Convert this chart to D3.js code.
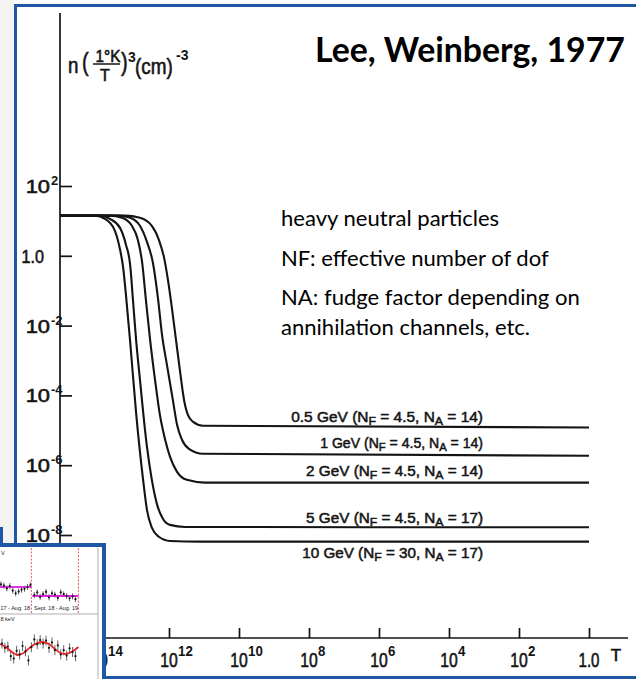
<!DOCTYPE html>
<html>
<head>
<meta charset="utf-8">
<script src="https://cdn.jsdelivr.net/npm/d3@7"></script>
<style>
  html, body { margin: 0; padding: 0; background: #fff; }
  svg { display: block; }
</style>
</head>
<body>
<svg id="chart" width="636" height="679"></svg>
<script>
// Heavy neutral lepton relic density n(1°K/T)^3 versus temperature T
// (after Lee & Weinberg, 1977). Values are stored as log10 exponents.

const massLabels = ["0.5 GeV", "1 GeV", "2 GeV", "5 GeV", "10 GeV"];
const nfValues   = ["4.5", "4.5", "4.5", "4.5", "30"];
const naValues   = ["14", "14", "14", "17", "17"];

const logT_05 = [15.11, 13.26, 12.83, 12.49, 12.29, 12.14, 12.03, 11.91, 11.80, 11.69, 11.57, 11.46, 11.31, 11.03, 0];
const logN_05 = [1.15, 1.15, 1.09, 0.86, 0.46, -0.06, -0.69, -1.55, -2.41, -3.27, -4.13, -4.56, -4.76, -4.87, -4.92];

const logT_1 = [15.11, 13.46, 13.11, 12.83, 12.63, 12.46, 12.31, 12.20, 12.06, 11.89, 11.77, 11.63, 11.43, 11.03, 0];
const logN_1 = [1.15, 1.15, 1.09, 0.86, 0.40, -0.20, -1.26, -2.26, -3.12, -4.13, -4.84, -5.27, -5.53, -5.67, -5.73];

const logT_2 = [15.11, 13.69, 13.34, 13.06, 12.89, 12.77, 12.66, 12.54, 12.40, 12.26, 12.11, 11.97, 11.77, 11.49, 10.97, 0];
const logN_2 = [1.15, 1.15, 1.09, 0.86, 0.46, -0.17, -1.26, -2.41, -3.55, -4.56, -5.27, -5.76, -6.19, -6.42, -6.50, -6.50];

const logT_5 = [15.11, 13.97, 13.69, 13.40, 13.23, 13.11, 13.03, 12.94, 12.83, 12.63, 12.49, 12.34, 12.17, 11.97, 11.54, 0];
const logN_5 = [1.15, 1.15, 1.06, 0.80, 0.32, -0.26, -1.26, -2.41, -3.55, -5.47, -6.42, -7.13, -7.54, -7.71, -7.77, -7.78];

const logT_10 = [15.11, 14.11, 13.83, 13.57, 13.43, 13.31, 13.23, 13.11, 12.94, 12.74, 12.63, 12.49, 12.29, 11.97, 11.11, 0];
const logN_10 = [1.15, 1.15, 1.06, 0.77, 0.32, -0.34, -1.12, -2.46, -4.50, -6.42, -7.28, -7.79, -8.05, -8.17, -8.19, -8.19];

const yTickExps = [2, 0, -2, -4, -6, -8];
const xTickExps = [14, 12, 10, 8, 6, 4, 2, 0];

const notes = [
  "heavy neutral particles",
  "NF: effective number of dof",
  "NA: fudge factor depending on",
  "annihilation channels, etc."
];
const titleText = "Lee, Weinberg, 1977";

// Small two-panel rate plot pasted in the lower-left corner
const insetDays1  = [1, 4, 7, 10, 13, 16, 19, 22, 25, 28, 31];
const insetRate1  = [1.006, 1.003, 0.997, 1.002, 0.992, 0.986, 0.990, 0.994, 0.996, 1.000, 1.004];
const insetDays2  = [35, 38, 41, 44, 47, 50, 53, 56, 59, 62, 65, 68, 71, 74, 77];
const insetRate2  = [0.982, 0.988, 0.978, 0.984, 0.989, 0.977, 0.986, 0.983, 0.976, 0.988, 0.984, 0.980, 0.975, 0.979, 0.973];
const insetLevels = [1.0, 0.98];
const insetFitDays = [0, 6, 12, 18, 24, 30, 36, 43, 50, 56, 62, 67, 73, 80];
const insetFitVals = [0.83, 0.33, -0.5, -1.0, -0.67, 0.17, 0.83, 1.17, 0.83, 0.0, -0.67, -0.83, -0.5, 0.33];
const insetResDays = [2, 5, 8, 11, 14, 17, 20, 23, 26, 29, 32, 35, 38, 41, 44, 47, 50, 53, 56, 59, 62, 65, 68, 71, 74, 77];
const insetResVals = [0.9, 0.2, 0.4, -1.2, -1.6, -0.3, -0.9, 0.5, -0.4, -1.9, 0.3, 1.6, 0.8, 1.5, 0.9, 1.4, 0.2, 1.1, -0.2, 0.6, -0.9, -0.2, -1.1, 0.1, -0.5, -1.2];

const svg = d3.select("#chart");
const W = 636, H = 679;
const frameBlue = "#1f57a5";
const ink = "#141414";
const scanFont = "'Liberation Sans', Arial, sans-serif";
const slideFont = "Lato, 'Open Sans', sans-serif";

svg.append("rect").attr("width", W).attr("height", H).attr("fill", "#fff");
// slide background strip on the left
svg.append("rect").attr("x", 0).attr("y", 0).attr("width", 14).attr("height", 545).attr("fill", "#f3f3f2");

// text in the typeset figure: horizontally scaled about its anchor point
function scanText(parent, px, py, str, size, opts = {}) {
  const g = parent.append("g").attr("transform", `translate(${px},${py}) scale(${opts.sx || 1},1)`);
  const t = g.append("text").attr("x", 0).attr("y", 0)
    .attr("font-family", scanFont).attr("font-size", size)
    .attr("font-weight", opts.bold ? "bold" : "normal")
    .attr("text-anchor", opts.anchor || "start")
    .attr("fill", ink).attr("stroke", ink).attr("stroke-width", opts.bold ? 0 : 0.6)
    .text(str);
  return t;
}

// ---------- scales ----------
const x = d3.scaleLog().domain([1e14, 1]).range([99, 589]);
const y = d3.scaleLog().domain([1e2, 1e-8]).range([186, 535]);

const axisX0 = 60, axisY0 = 638;

// ---------- axes ----------
svg.append("line").attr("x1", axisX0).attr("x2", axisX0).attr("y1", 13).attr("y2", axisY0)
  .attr("stroke", ink).attr("stroke-width", 1.7);
svg.append("line").attr("x1", axisX0).attr("x2", 628).attr("y1", axisY0).attr("y2", axisY0)
  .attr("stroke", ink).attr("stroke-width", 1.7);

const yAxis = svg.append("g").attr("transform", `translate(${axisX0},0)`)
  .call(d3.axisRight(y).tickValues(yTickExps.map(e => Math.pow(10, e))).tickSize(12).tickFormat(""));
yAxis.select(".domain").remove();
yAxis.selectAll(".tick line").attr("stroke", ink).attr("stroke-width", 1.7);

const xAxis = svg.append("g").attr("transform", `translate(0,${axisY0})`)
  .call(d3.axisTop(x).tickValues(xTickExps.map(e => Math.pow(10, e))).tickSize(10).tickFormat(""));
xAxis.select(".domain").remove();
xAxis.selectAll(".tick line").attr("stroke", ink).attr("stroke-width", 1.7);

// y tick labels
yTickExps.forEach(e => {
  const ty = y(Math.pow(10, e));
  if (e === 0) {
    scanText(svg, 44, ty + 7, "1.0", 19, { anchor: "end", sx: 0.85 });
  } else {
    scanText(svg, 50, ty + 7, "10", 19, { anchor: "end", sx: 1.15 });
    scanText(svg, 51, ty - 1, e < 0 ? "-" + (-e) : String(e), 13, { bold: true });
  }
});

// x tick labels
xTickExps.forEach(e => {
  const tx = x(Math.pow(10, e));
  if (e === 0) {
    scanText(svg, tx, 667, "1.0", 21, { anchor: "middle", sx: 0.72 });
  } else {
    scanText(svg, tx, 667, "10", 21, { anchor: "middle", sx: 0.75 });
    scanText(svg, tx + 9, 656, String(e), 14, { bold: true, sx: 0.95 });
  }
});
scanText(svg, 616, 661, "T", 17, { anchor: "middle" });

// y axis title: n(1°K / T)^3 (cm)^-3
scanText(svg, 68, 73, "n", 22, { sx: 0.85 });
scanText(svg, 82, 71, "(", 25, { sx: 0.8 });
scanText(svg, 108, 62, "1°K", 17, { anchor: "middle", sx: 0.9 });
svg.append("line").attr("x1", 93).attr("x2", 120).attr("y1", 64).attr("y2", 64).attr("stroke", ink).attr("stroke-width", 1.5);
scanText(svg, 105, 81, "T", 16, { anchor: "middle" });
scanText(svg, 121, 71, ")", 25, { sx: 0.8 });
scanText(svg, 128, 62, "3", 14, { bold: true });
scanText(svg, 135, 74, "(cm)", 22, { sx: 0.86 });
scanText(svg, 176, 60, "-3", 14, { bold: true });

// ---------- curves ----------
const series = [
  { T: logT_05, N: logN_05 },
  { T: logT_1,  N: logN_1 },
  { T: logT_2,  N: logN_2 },
  { T: logT_5,  N: logN_5 },
  { T: logT_10, N: logN_10 }
].map((s, i) => ({
  mass: massLabels[i], nf: nfValues[i], na: naValues[i],
  pts: s.T.map((t, k) => ({ T: Math.pow(10, t), n: Math.pow(10, s.N[k]) }))
}));

const line = d3.line().x(d => x(d.T)).y(d => y(d.n)).curve(d3.curveMonotoneX);

svg.append("g").selectAll("path").data(series).join("path")
  .attr("d", d => line(d.pts))
  .attr("fill", "none").attr("stroke", ink).attr("stroke-width", 2.1)
  .attr("stroke-linejoin", "round");

// curve labels, right-aligned above (or below, for the last) each freeze-out level
const labelDy = [-6, -8, -7, -4.5, 16];
const labelEndX = 483;
const labelWidth = [192, 163, 177, 177, 181];
series.forEach((s, i) => {
  const last = s.pts[s.pts.length - 1];
  const g = svg.append("g");
  const t = g.append("text").attr("x", 0).attr("y", 0).attr("text-anchor", "end")
    .attr("font-family", scanFont).attr("font-size", 14)
    .attr("fill", ink).attr("stroke", ink).attr("stroke-width", 0.5);
  t.append("tspan").text(s.mass + " (N");
  t.append("tspan").attr("font-size", "0.8em").attr("dy", "0.3em").text("F");
  t.append("tspan").attr("dy", "-0.24em").text(" = " + s.nf + ", N");
  t.append("tspan").attr("font-size", "0.8em").attr("dy", "0.3em").text("A");
  t.append("tspan").attr("dy", "-0.24em").text(" = " + s.na + ")");
  const w = t.node().getComputedTextLength();
  g.attr("transform", `translate(${labelEndX},${y(last.n) + labelDy[i]}) scale(${labelWidth[i] / w},1)`);
});

// ---------- slide text ----------
const title = svg.append("text").attr("x", 315).attr("y", 62)
  .attr("font-family", slideFont).attr("font-weight", "bold").attr("font-size", 32)
  .attr("fill", "#000").text(titleText);
{
  const w = title.node().getComputedTextLength();
  title.attr("font-size", 32 * 310 / w);
}

const noteY = [226, 266, 305, 335];
const noteNodes = notes.map((s, i) =>
  svg.append("text").attr("x", 281).attr("y", noteY[i])
    .attr("font-family", slideFont).attr("font-size", 19).attr("fill", "#000").text(s));
{
  const w = noteNodes[2].node().getComputedTextLength();
  const fs = 19 * 299 / w;
  noteNodes.forEach(t => t.attr("font-size", fs));
}

// ---------- frame ----------
svg.append("line").attr("x1", 14).attr("x2", W).attr("y1", 5.5).attr("y2", 5.5)
  .attr("stroke", frameBlue).attr("stroke-width", 3);
svg.append("line").attr("x1", 15.5).attr("x2", 15.5).attr("y1", 4).attr("y2", H)
  .attr("stroke", frameBlue).attr("stroke-width", 3);
svg.append("line").attr("x1", 14).attr("x2", W).attr("y1", 677.5).attr("y2", 677.5)
  .attr("stroke", frameBlue).attr("stroke-width", 3);
svg.append("rect").attr("x", 0).attr("y", 527).attr("width", 3).attr("height", 18).attr("fill", frameBlue);

// ---------- inset ----------
const inset = svg.append("g");
inset.append("rect").attr("x", -5).attr("y", 545).attr("width", 109).attr("height", 140)
  .attr("fill", "#fff").attr("stroke", frameBlue).attr("stroke-width", 4);
const ix = d3.scaleLinear().domain([0, 100]).range([0, 98]);
const iyTop = d3.scaleLinear().domain([0.98, 1.0]).range([596, 587]);
const iyBot = d3.scaleLinear().domain([-1, 1]).range([655, 643]);

inset.append("line").attr("x1", 98).attr("x2", 98).attr("y1", 548).attr("y2", 679).attr("stroke", "#999").attr("stroke-width", 0.8);
inset.append("line").attr("x1", 0).attr("x2", 98).attr("y1", 614).attr("y2", 614).attr("stroke", "#999").attr("stroke-width", 0.8);
[32, 80].forEach(d => inset.append("line").attr("x1", ix(d)).attr("x2", ix(d)).attr("y1", 548).attr("y2", 613)
  .attr("stroke", "#e8474d").attr("stroke-width", 0.9).attr("stroke-dasharray", "2,1.5"));

// top panel: points with error bars and two flat levels
const topPts = insetDays1.map((d, i) => ({ d, v: insetRate1[i] }))
  .concat(insetDays2.map((d, i) => ({ d, v: insetRate2[i] })));
inset.append("g").selectAll("line").data(topPts).join("line")
  .attr("x1", p => ix(p.d)).attr("x2", p => ix(p.d))
  .attr("y1", p => iyTop(p.v) - 3).attr("y2", p => iyTop(p.v) + 3)
  .attr("stroke", "#222").attr("stroke-width", 0.7);
inset.append("line").attr("x1", ix(0)).attr("x2", ix(32)).attr("y1", iyTop(insetLevels[0])).attr("y2", iyTop(insetLevels[0]))
  .attr("stroke", "#e020e0").attr("stroke-width", 1.8);
inset.append("line").attr("x1", ix(33)).attr("x2", ix(80)).attr("y1", iyTop(insetLevels[1])).attr("y2", iyTop(insetLevels[1]))
  .attr("stroke", "#e020e0").attr("stroke-width", 1.8);
inset.append("g").selectAll("circle").data(topPts).join("circle")
  .attr("cx", p => ix(p.d)).attr("cy", p => iyTop(p.v)).attr("r", 1.1).attr("fill", "#111");

const insetText = (px, py, str, anchor) => inset.append("text").attr("x", px).attr("y", py)
  .attr("text-anchor", anchor).attr("font-family", scanFont).attr("font-size", 5.5).attr("fill", "#222").text(str);
insetText(1, 555, "V", "start");
insetText(0.5, 610, "17 - Aug. 18", "start");
insetText(56, 610, "Sept. 18 - Aug. 19", "middle");
insetText(0.5, 621, "8 keV", "start");

// bottom panel: residual points and modulation fit
const botPts = insetResDays.map((d, i) => ({ d, v: insetResVals[i] }));
inset.append("g").selectAll("line").data(botPts).join("line")
  .attr("x1", p => ix(p.d)).attr("x2", p => ix(p.d))
  .attr("y1", p => iyBot(p.v) - 5).attr("y2", p => iyBot(p.v) + 5)
  .attr("stroke", "#222").attr("stroke-width", 0.7);
inset.append("path")
  .attr("d", d3.line().x(d => ix(d)).y((d, i) => iyBot(insetFitVals[i])).curve(d3.curveCatmullRom)(insetFitDays))
  .attr("fill", "none").attr("stroke", "#e3262a").attr("stroke-width", 1.8);
inset.append("g").selectAll("circle").data(botPts).join("circle")
  .attr("cx", p => ix(p.d)).attr("cy", p => iyBot(p.v)).attr("r", 1.1).attr("fill", "#111");
</script>
</body>
</html>
